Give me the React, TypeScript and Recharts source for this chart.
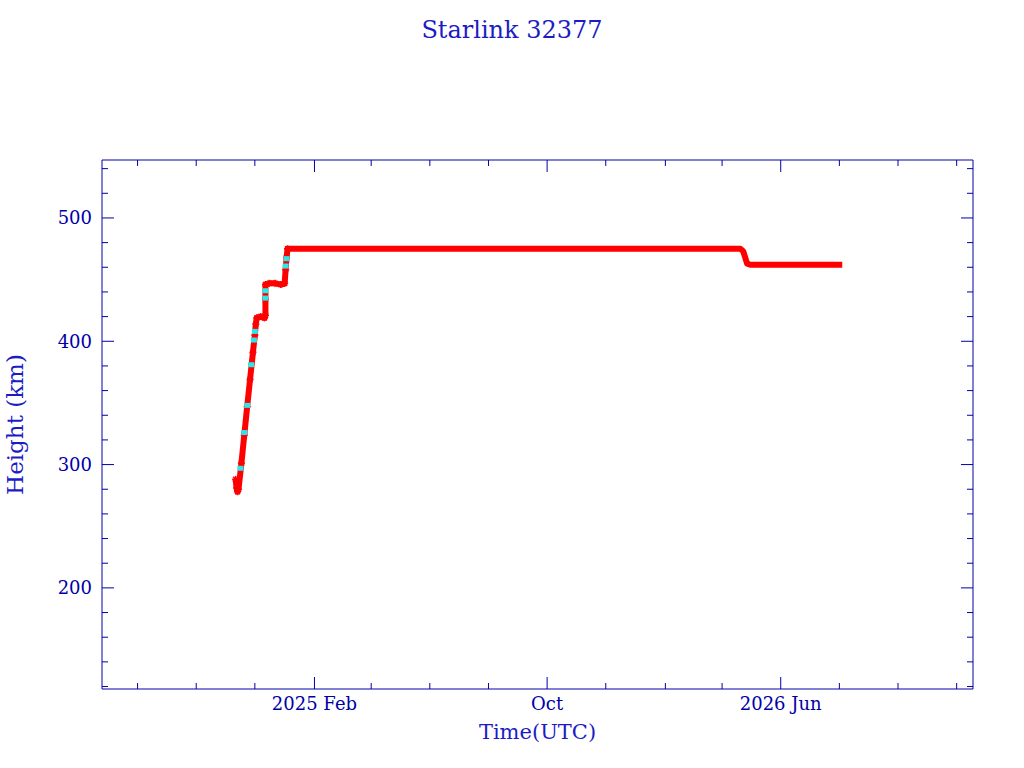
import React from 'react';
import { ComposedChart, Line, Scatter, XAxis, YAxis } from 'recharts';

// red: main height track (km)
const redDates = [
  '2024-11-11', '2024-11-12', '2024-11-13', '2024-11-14', '2024-11-17', '2024-11-20',
  '2024-11-23', '2024-11-26', '2024-11-29', '2024-12-01', '2024-12-02', '2024-12-03',
  '2024-12-07', '2024-12-11', '2024-12-12', '2024-12-12', '2024-12-12', '2024-12-16',
  '2024-12-22', '2024-12-28', '2025-01-01', '2025-01-02', '2025-01-03', '2025-01-04',
  '2025-02-01', '2025-04-01', '2025-06-01', '2025-08-01', '2025-10-01', '2025-12-01',
  '2026-02-01', '2026-04-01', '2026-04-20', '2026-04-23', '2026-04-25', '2026-04-27',
  '2026-05-01', '2026-06-01', '2026-07-01', '2026-08-04',
];
const redHeights = [
  288, 281, 278, 280, 301, 324,
  347, 369, 391, 405, 414, 419,
  420, 419, 421, 434, 446, 447,
  447, 446, 447, 458, 468, 475,
  475, 475, 475, 475, 475, 475,
  475, 475, 475, 473, 468, 463,
  462, 462, 462, 462,
];

// cyan: second source points on the climb
const cyanDates = [
  '2024-11-16', '2024-11-20', '2024-11-23', '2024-11-27', '2024-11-30', '2024-12-01',
  '2024-12-12', '2024-12-12', '2025-01-02', '2025-01-03',
];
const cyanHeights = [297, 326, 348, 381, 401, 408, 435, 441, 461, 467];

const xMajorTicks = ['2025-02-01', '2025-10-01', '2026-06-01'];
const xMajorLabels = ['2025 Feb', 'Oct', '2026 Jun'];
const xMinorTicks = [
  '2024-08-01', '2024-10-01', '2024-12-01', '2025-04-01', '2025-06-01', '2025-08-01',
  '2025-12-01', '2026-02-01', '2026-04-01', '2026-08-01', '2026-10-01', '2026-12-01',
];
const yMajorTicks = [200, 300, 400, 500];
const yMinorTicks = [
  120, 140, 160, 180, 220, 240, 260, 280, 320, 340, 360, 380, 420, 440, 460, 480, 520, 540,
];

const toT = (s: string) => Date.parse(s + 'T00:00:00Z');

const X_MIN = toT('2024-06-25');
const X_MAX = toT('2026-12-18');
const Y_MIN = 118;
const Y_MAX = 547;

const AXIS = '#0000a8';
const LABEL = '#1c1cc4';
const FONT = '"DejaVu Serif", serif';

const redData = redDates.map((d, i) => ({ t: toT(d), h: redHeights[i] }));
const cyanData = cyanDates.map((d, i) => ({ t: toT(d), h: cyanHeights[i] }));

const majorX = xMajorTicks.map(toT);
const allX = [...majorX, ...xMinorTicks.map(toT)].sort((a, b) => a - b);
const allY = [...yMajorTicks, ...yMinorTicks].sort((a, b) => a - b);
const CLIMB_END = toT('2025-01-05');

function BottomTick(props: any) {
  const { x, y, payload } = props;
  const i = majorX.indexOf(payload.value);
  const len = i >= 0 ? 12 : 6;
  return (
    <g>
      <line x1={x} x2={x} y1={y} y2={y - len} stroke={AXIS} strokeWidth={1} />
      {i >= 0 && (
        <text x={x} y={y + 21} textAnchor="middle" fill={AXIS} fontSize={18} fontFamily={FONT}>
          {xMajorLabels[i]}
        </text>
      )}
    </g>
  );
}

function TopTick(props: any) {
  const { x, y, payload } = props;
  const len = majorX.includes(payload.value) ? 12 : 6;
  return <line x1={x} x2={x} y1={y} y2={y + len} stroke={AXIS} strokeWidth={1} />;
}

function LeftTick(props: any) {
  const { x, y, payload } = props;
  const major = yMajorTicks.includes(payload.value);
  return (
    <g>
      <line x1={x} x2={x + (major ? 12 : 6)} y1={y} y2={y} stroke={AXIS} strokeWidth={1} />
      {major && (
        <text x={x - 10} y={y + 6.5} textAnchor="end" fill={AXIS} fontSize={18} fontFamily={FONT}>
          {payload.value}
        </text>
      )}
    </g>
  );
}

function RightTick(props: any) {
  const { x, y, payload } = props;
  const len = yMajorTicks.includes(payload.value) ? 12 : 6;
  return <line x1={x} x2={x - len} y1={y} y2={y} stroke={AXIS} strokeWidth={1} />;
}

// asterisk markers along the climb
function StarDot(props: any) {
  const { cx, cy, payload, index } = props;
  if (payload.t > CLIMB_END || cx == null) return <g key={index} />;
  const r = 3.5;
  const d = 2.5;
  return (
    <g key={index} stroke="#ff0000" strokeWidth={1.6}>
      <line x1={cx - r} x2={cx + r} y1={cy} y2={cy} />
      <line x1={cx} x2={cx} y1={cy - r} y2={cy + r} />
      <line x1={cx - d} x2={cx + d} y1={cy - d} y2={cy + d} />
      <line x1={cx - d} x2={cx + d} y1={cy + d} y2={cy - d} />
    </g>
  );
}

function CyanSquare(props: any) {
  const { cx, cy } = props;
  return <rect x={cx - 3} y={cy - 2.5} width={6} height={5} fill="#2ee6e6" />;
}

export default function App() {
  return (
    <div style={{ position: 'absolute', left: 0, top: 0, width: 1024, height: 768, background: '#fff' }}>
      <ComposedChart width={1024} height={768} margin={{ top: 159, right: 50, bottom: 0, left: 0 }}>
        <XAxis
          xAxisId="b"
          orientation="bottom"
          type="number"
          dataKey="t"
          domain={[X_MIN, X_MAX]}
          ticks={allX}
          interval={0}
          height={79}
          tickSize={0}
          tickMargin={0}
          tickLine={false}
          tick={<BottomTick />}
          axisLine={{ stroke: AXIS }}
          allowDataOverflow
        />
        <XAxis
          xAxisId="t"
          orientation="top"
          type="number"
          dataKey="t"
          domain={[X_MIN, X_MAX]}
          ticks={allX}
          interval={0}
          height={1}
          tickSize={0}
          tickMargin={0}
          tickLine={false}
          tick={<TopTick />}
          axisLine={{ stroke: AXIS }}
          allowDataOverflow
        />
        <YAxis
          yAxisId="l"
          orientation="left"
          type="number"
          dataKey="h"
          domain={[Y_MIN, Y_MAX]}
          ticks={allY}
          interval={0}
          width={102}
          tickSize={0}
          tickMargin={0}
          tickLine={false}
          tick={<LeftTick />}
          axisLine={{ stroke: AXIS }}
          allowDataOverflow
        />
        <YAxis
          yAxisId="r"
          orientation="right"
          type="number"
          dataKey="h"
          domain={[Y_MIN, Y_MAX]}
          ticks={allY}
          interval={0}
          width={1}
          tickSize={0}
          tickMargin={0}
          tickLine={false}
          tick={<RightTick />}
          axisLine={{ stroke: AXIS }}
          allowDataOverflow
        />
        <Line
          xAxisId="b"
          yAxisId="l"
          data={redData}
          dataKey="h"
          type="linear"
          stroke="#ff0000"
          strokeWidth={6}
          strokeLinejoin="round"
          dot={StarDot}
          activeDot={false}
          isAnimationActive={false}
        />
        <Scatter
          xAxisId="b"
          yAxisId="l"
          data={cyanData}
          dataKey="h"
          shape={<CyanSquare />}
          isAnimationActive={false}
        />
      </ComposedChart>
      <svg width={1024} height={768} style={{ position: 'absolute', left: 0, top: 0, pointerEvents: 'none' }}>
        <text x={512} y={38} textAnchor="middle" fill={LABEL} fontSize={24} fontFamily={FONT}>
          Starlink 32377
        </text>
        <text x={537.5} y={739} textAnchor="middle" fill={LABEL} fontSize={21} fontFamily={FONT}>
          Time(UTC)
        </text>
        <text
          x={0}
          y={0}
          transform="translate(23 424.5) rotate(-90)"
          textAnchor="middle"
          fill={LABEL}
          fontSize={23}
          fontFamily={FONT}
        >
          Height (km)
        </text>
      </svg>
    </div>
  );
}
